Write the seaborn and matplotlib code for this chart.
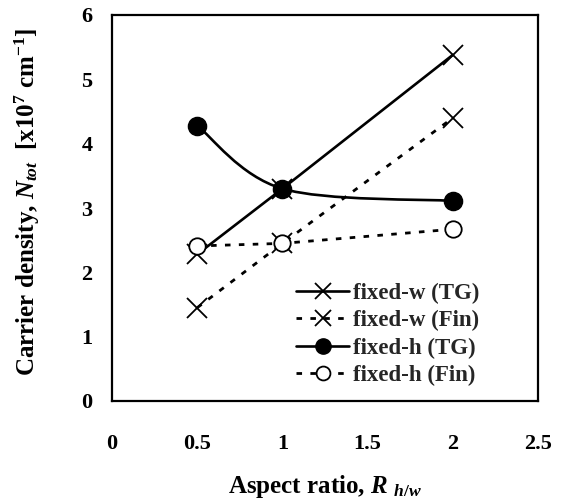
import numpy as np
import pandas as pd
import matplotlib
matplotlib.use("Agg")
import matplotlib.pyplot as plt
import seaborn as sns
from matplotlib.path import Path
from matplotlib.patches import PathPatch
from matplotlib.lines import Line2D

aspect = [0.5, 1.0, 2.0]
fixed_w_tg = [2.28, 3.30, 5.38]
fixed_w_fin = [1.45, 2.45, 4.40]
fixed_h_tg = [4.28, 3.30, 3.11]
fixed_h_fin = [2.41, 2.45, 2.67]
series_names = ["fixed-w (TG)", "fixed-w (Fin)", "fixed-h (TG)", "fixed-h (Fin)"]
x_ticks = [0, 0.5, 1, 1.5, 2, 2.5]
y_ticks = [0, 1, 2, 3, 4, 5, 6]

sns.set_theme(style="white")
plt.rcParams["font.family"] = ["Liberation Serif", "DejaVu Serif"]
plt.rcParams["font.weight"] = "bold"
plt.rcParams["mathtext.fontset"] = "custom"
plt.rcParams["mathtext.rm"] = "Liberation Serif:bold"
plt.rcParams["mathtext.it"] = "Liberation Serif:italic:bold"
plt.rcParams["mathtext.bf"] = "Liberation Serif:bold"

fig = plt.figure(figsize=(5.62, 5.0), dpi=100)
ax = fig.add_axes([112/562, 1-401/500, 426/562, 386/500])

dash = (0, (2, 3))
df = pd.DataFrame({
    "x": aspect * 4,
    "y": fixed_w_tg + fixed_w_fin + fixed_h_tg + fixed_h_fin,
    "s": sum([[n]*3 for n in series_names], []),
})

xkw = dict(marker="x", markersize=14, markeredgewidth=1.3, markeredgecolor="black")
# straight line series
sns.lineplot(data=df[df.s == series_names[0]], x="x", y="y", ax=ax, color="black",
             lw=1.9, legend=False, **xkw)
sns.lineplot(data=df[df.s == series_names[1]], x="x", y="y", ax=ax, color="black",
             lw=2.0, legend=False, **xkw)
ax.lines[-1].set_linestyle(dash)
sns.lineplot(data=df[df.s == series_names[3]], x="x", y="y", ax=ax, color="black",
             lw=2.0, legend=False)
ax.lines[-1].set_linestyle(dash)
sns.scatterplot(data=df[df.s == series_names[3]], x="x", y="y", ax=ax, marker="o",
                s=140, facecolor="white", edgecolor="black", linewidth=1.3, zorder=4, legend=False)

# smoothed curve for fixed-h (TG) (Bezier through the data points)
pts = np.column_stack([aspect, fixed_h_tg])
verts = [tuple(pts[0])]; codes = [Path.MOVETO]
n = len(pts)
t = 1/6
for i in range(n-1):
    p0 = pts[i-1] if i > 0 else pts[i]
    p1 = pts[i]; p2 = pts[i+1]
    p3 = pts[i+2] if i+2 < n else pts[i+1]
    c1 = p1 + (p2 - p0) * t
    c2 = p2 - (p3 - p1) * t
    verts += [tuple(c1), tuple(c2), tuple(p2)]
    codes += [Path.CURVE4]*3
ax.add_patch(PathPatch(Path(verts, codes), facecolor="none", edgecolor="black", lw=1.9, zorder=3))
sns.scatterplot(data=df[df.s == series_names[2]], x="x", y="y", ax=ax, marker="o",
                s=170, color="black", edgecolor="black", zorder=5, legend=False)

ax.set_xlim(0, 2.5)
ax.set_ylim(0, 6)
ax.set_xticks(x_ticks)
ax.set_xticklabels([f"{v:g}" for v in x_ticks])
ax.set_yticks(y_ticks)
ax.tick_params(axis="both", length=0, labelsize=16, colors="black")
ax.tick_params(axis="x", pad=24)
ax.tick_params(axis="y", pad=14)
for lab in ax.get_xticklabels() + ax.get_yticklabels():
    lab.set_fontweight("bold")
for sp in ax.spines.values():
    sp.set_color("black"); sp.set_linewidth(1.6)

ax.set_xlabel(r"Aspect ratio, $\it{R}$ $_{h/w}$", fontsize=18, fontweight="bold", color="black")
ax.xaxis.set_label_coords(0.5, -(473-401)/386)
ax.set_ylabel(r"Carrier density, $\it{N}_{tot}$  [x10$^{7}$ cm$^{-1}$]", fontsize=18,
              fontweight="bold", color="black")
ax.yaxis.set_label_coords(-(112-42)/426, 0.516)

handles = [
    Line2D([], [], color="black", lw=1.9, marker="x", markersize=12, markeredgewidth=1.3),
    Line2D([], [], color="black", lw=2.0, ls=dash, marker="x", markersize=12, markeredgewidth=1.3),
    Line2D([], [], color="black", lw=1.9, marker="o", markersize=11),
    Line2D([], [], color="black", lw=2.0, ls=dash, marker="o", markersize=10,
           markerfacecolor="white", markeredgewidth=1.3),
]
leg = ax.legend(handles, series_names, loc="upper left", bbox_to_anchor=(0.406, 0.337),
                frameon=False, handlelength=2.3, handletextpad=0.15, borderpad=0,
                labelspacing=0.28, prop={"weight": "bold", "size": 16.5})
fig.savefig("out.png", dpi=100)
